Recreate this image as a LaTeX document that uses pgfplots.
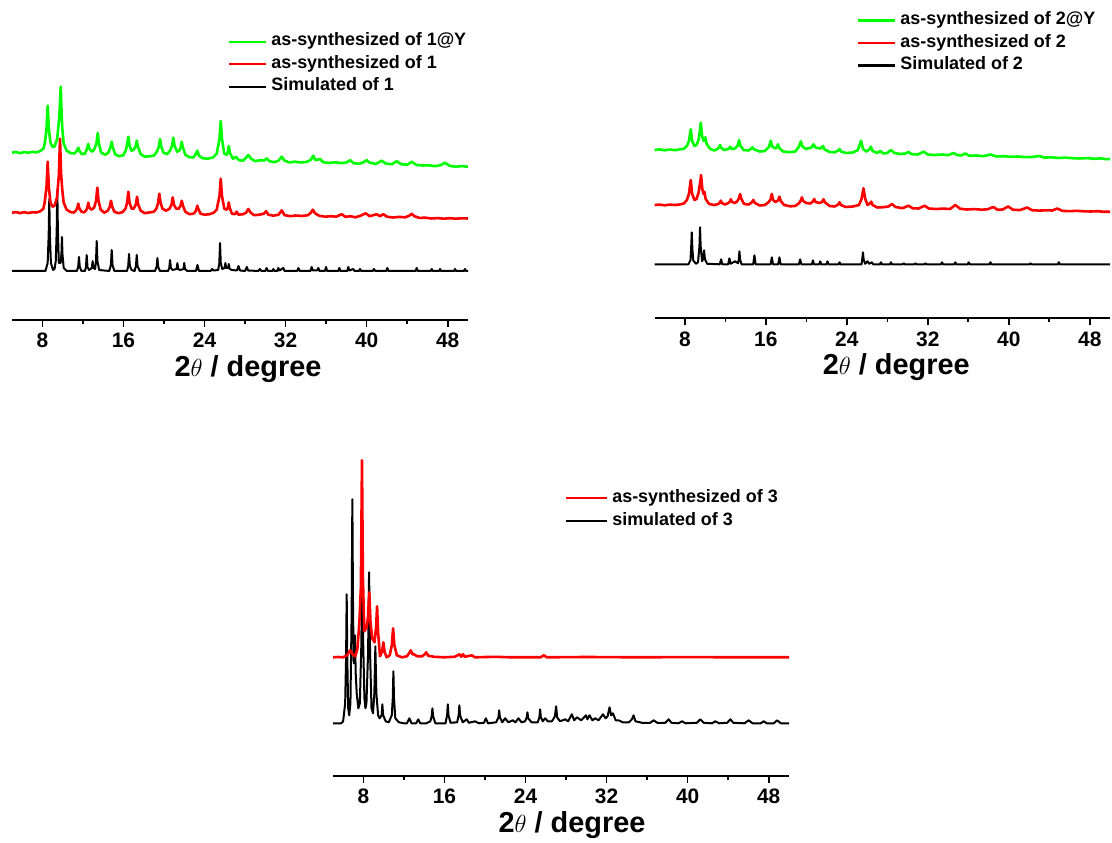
\documentclass[border=0pt]{standalone}
\usepackage{fontspec}
\setmainfont{Liberation Sans}
\usepackage{pgfplots}
\pgfplotsset{compat=1.18}

\definecolor{xgreen}{RGB}{0,255,0}
\definecolor{xred}{RGB}{255,0,0}

\pgfplotsset{
  xrd/.style={
    scale only axis,
    width=456bp,
    xmin=5, xmax=50, ymin=0,
    axis x line*=bottom,
    axis y line=none,
    xtick={8,16,...,48},
    minor x tick num=1,
    tick align=outside,
    major tick length=7bp,
    minor tick length=4bp,
    every tick/.style={black, line width=1.6bp},
    axis line style={black, line width=1.7bp},
    /pgf/number format/assume math mode=true,
    xticklabel style={font=\bfseries\fontsize{21}{21}\selectfont, inner sep=0pt, yshift=-6bp},
    xlabel={2$\theta$ / degree},
    xlabel style={font=\bfseries\fontsize{29}{29}\selectfont, inner sep=0pt,
      at={(axis description cs:0.5,0)}, anchor=north, yshift=-35bp},
    legend style={draw=none, fill=none, inner sep=0pt, outer sep=0pt, anchor=north west,
      font=\bfseries\fontsize{18}{18}\selectfont, row sep=0pt, column sep=4bp,
      nodes={inner sep=0pt, text height=15.5bp, text depth=7bp}},
    legend cell align=left,
    reverse legend,
    legend image code/.code={\draw[#1, line width=2.2bp] (0bp,0bp) -- (37bp,0bp);},
  },
  sim/.style={black, line width=2bp, line join=round},
  expr/.style={xred, line width=2.6bp, line join=round},
  expg/.style={xgreen, line width=2.6bp, line join=round},
}

\begin{document}
\begin{tikzpicture}
\path[use as bounding box] (0bp,0bp) rectangle (1112bp,843bp);

% ---------------- compound 1 ----------------
\begin{axis}[xrd, at={(12bp,523bp)}, anchor=south west, height=300bp, ymax=300,
  legend style={at={(0.474,0.965)}}, xlabel style={xshift=8bp}]
\addplot[sim] table[y expr=\thisrow{y}+49] {
x y
5 0
8.3 0
8.52 8
8.62 36
8.68 72
8.74 36
8.84 8
9.05 1
9.2 2
9.32 10
9.41 40
9.47 81
9.53 40
9.62 8
9.8 8
9.88 18
9.93 34
9.98 17
10.1 3
10.4 0
11.4 0
11.53 4
11.61 14
11.69 4
11.85 0
12.2 0
12.3 4
12.37 16
12.45 4
12.6 1
12.88 3
12.96 10
13.03 3
13.2 2
13.29 10
13.36 30
13.43 10
13.6 1
14.6 0
14.76 6
14.84 21
14.92 6
15.1 0
16.35 0
16.47 5
16.55 17
16.63 5
16.8 1
17.1 0
17.23 5
17.31 16
17.39 5
17.6 0
19.1 0
19.27 4
19.35 13
19.43 4
19.6 0
20.4 0
20.52 3
20.6 11
20.68 3
20.85 1
21.24 2
21.32 8
21.4 2
21.6 1
21.93 2
22.0 8
22.07 2
22.3 0
23.15 0
23.3 6
23.45 0
24.6 0
24.75 2
24.9 0.5
25.35 1
25.46 8
25.53 28
25.6 8
25.75 2
25.98 3
26.06 8
26.14 3
26.32 3
26.4 7
26.48 2
26.7 1
27.2 0.5
27.35 5
27.5 0.5
28.0 0
28.17 4
28.3 0.5
29.3 0
29.47 2
29.6 0
30.0 0
30.13 3
30.26 0
30.7 0
30.79 2
30.9 0
31.18 0
31.28 3
31.4 0.5
31.77 3
31.9 0
33.15 0
33.26 3
33.4 0
34.45 0
34.57 4
34.7 0.5
35.1 0.5
35.23 3
35.35 0
35.88 0
35.99 4
36.1 0
37.2 0
37.3 3
37.4 0
38.08 0
38.19 4
38.3 0.5
38.68 2
38.8 0
39.25 0
39.34 2
39.45 0
40.6 0
40.72 2
40.85 0
41.93 0
42.04 3
42.15 0
44.83 0
44.94 3
45.05 0
46.32 0
46.42 2
46.52 0
47.14 0
47.24 2
47.34 0
48.62 0
48.72 2
48.82 0
49.6 0
49.7 2
49.8 0
50 0
};
\addlegendentry{Simulated of 1}
\addplot[expr] table[y expr=\thisrow{y}+107.3] {
x y
5 0
5.4 0.6
5.8 -0.4
6.2 0.5
6.6 -0.3
7.0 0.4
7.4 0.2
7.8 1.5
8.1 4
8.22 10
8.4 25
8.52 51
8.64 25
8.8 10
9.0 6
9.2 7
9.44 15
9.62 37
9.74 74
9.84 40
9.96 23
10.1 10
10.4 3
10.8 0.5
11.1 0.2
11.3 2
11.44 4.5
11.54 9
11.64 4.5
11.85 1
12.1 0.3
12.3 2
12.43 5
12.53 10
12.63 5
12.85 3
13.1 5
13.3 12
13.42 25
13.54 12
13.75 3
14.1 0
14.45 2
14.65 6
14.77 12
14.89 6
15.1 1
15.5 -0.5
15.9 0.5
16.2 4
16.36 10
16.48 21
16.6 10
16.8 4
17.0 4
17.22 8
17.34 16
17.46 8
17.7 2
18.1 -0.5
18.6 0.3
19.0 1
19.25 4
19.42 10
19.54 19
19.66 10
19.85 4
20.2 2
20.55 4
20.74 8
20.86 15.3
20.98 8
21.2 4
21.45 4
21.63 7
21.75 12
21.87 7
22.1 1
22.5 -1.5
22.9 -1
23.1 1
23.2 4
23.29 7
23.38 4
23.6 -1
24.0 -2
24.5 -1.5
24.9 0
25.2 3
25.48 17
25.6 34
25.72 17
25.95 4
26.2 3
26.3 5
26.39 10.3
26.48 5
26.7 -1
27.0 -1.5
27.17 1
27.35 -2
27.8 -1.5
28.1 0
28.32 3.7
28.55 0
28.9 -2.5
29.4 -2
29.85 -1
30.07 1.5
30.3 -2
30.8 -3
31.3 -2
31.62 2.3
31.9 -2.5
32.5 -3.5
33.0 -2.8
33.6 -3.3
34.2 -2.5
34.5 0
34.68 3
34.9 -0.5
35.3 -3
35.9 -4
36.5 -3.5
37.0 -4
37.54 -1.5
37.9 -4.2
38.4 -3.5
38.9 -4.6
39.4 -3
39.9 -0.6
40.3 -3.5
40.99 -1.5
41.3 -3.5
41.64 -1.5
42.0 -4
42.6 -4.8
43.2 -4.2
43.8 -4.6
44.2 -3
44.45 -1
44.7 -3.5
45.2 -5.2
45.8 -5
46.4 -5.8
47.0 -5.4
47.6 -6
48.2 -5.5
48.8 -6
49.4 -5.6
50 -5.8
};
\addlegendentry{as-synthesized of 1}
\addplot[expg] table[y expr=\thisrow{y}+167.3] {
x y
5 0
5.4 0.8
5.8 -0.5
6.2 0.6
6.6 0
7.0 0.9
7.4 0.3
7.8 1.8
8.1 4
8.25 10
8.4 23
8.52 47
8.64 23
8.8 10
9.0 6
9.2 6
9.46 14
9.66 35
9.81 66
9.9 38
9.96 25
10.1 9
10.4 2
10.8 -0.5
11.1 -0.8
11.3 0.5
11.44 2.5
11.54 5
11.64 2
11.9 -1.5
12.2 -1
12.36 3
12.53 8.7
12.65 3.5
12.9 1
13.1 3
13.33 9
13.46 19.7
13.58 9
13.8 0
14.2 -2
14.5 0
14.7 5
14.84 11
14.96 5
15.2 -2
15.6 -3.5
16.0 -2.5
16.25 3
16.36 8
16.48 16
16.6 7
16.8 2
17.0 3
17.2 6
17.31 12
17.43 6
17.7 -1.5
18.1 -4
18.6 -3.5
19.0 -3
19.3 1
19.49 6
19.61 13.7
19.73 6
19.95 0
20.3 -1.5
20.6 2
20.8 7
20.92 15
21.04 7
21.3 1
21.5 2
21.64 5
21.75 11
21.87 5
22.1 -2
22.5 -4.5
22.9 -4.8
23.1 -2
23.29 2
23.45 -3
23.8 -5.5
24.3 -6
24.8 -5
25.2 -1
25.48 14
25.6 31.7
25.72 14
25.95 -1
26.2 -2
26.3 1
26.39 6.7
26.5 0
26.8 -6
27.11 -4.3
27.4 -7.5
27.8 -8
28.1 -5
28.32 -2.3
28.6 -6
29.0 -8.5
29.5 -7.5
29.9 -7.8
30.13 -5.6
30.4 -8.5
30.9 -9.5
31.3 -8
31.62 -4
31.9 -8
32.4 -9.8
32.9 -9
33.5 -9.8
34.1 -9.2
34.5 -7
34.73 -3
34.95 -7.5
35.39 -6.3
35.7 -9.5
36.3 -10.3
36.9 -9.6
37.5 -10.4
38.0 -9.8
38.36 -7.5
38.7 -10.5
39.3 -11
39.7 -9.5
40.0 -7.5
40.3 -10
40.9 -11.3
41.48 -8
41.9 -11
42.5 -11.5
42.97 -8.5
43.4 -11.5
44.0 -12
44.45 -9
44.9 -12.2
45.5 -12.8
46.1 -12.5
46.7 -13.5
47.3 -12.5
47.73 -10
48.2 -13.2
48.8 -14
49.4 -13.4
50 -14
};
\addlegendentry{as-synthesized of 1@Y}
\end{axis}

% ---------------- compound 2 ----------------
\begin{axis}[xrd, at={(654.5bp,524.7bp)}, anchor=south west, width=455.5bp, height=310bp, ymax=310,
  legend style={at={(0.445,0.997)}}, xlabel style={xshift=14bp}]
\addplot[sim] table[y expr=\thisrow{y}+54] {
x y
5 0
8.35 0
8.55 4
8.62 16
8.68 32
8.74 16
8.82 4
9.1 0.5
9.3 2
9.44 18
9.5 37
9.56 18
9.7 3
9.8 5
9.9 14
9.98 5
10.2 0.5
11.45 0
11.58 5
11.7 0
12.28 0
12.4 6
12.52 0.5
12.96 3
13.25 1
13.33 5
13.39 13
13.45 5
13.6 0
14.75 0
14.87 9
14.99 0
16.47 0
16.59 7
16.71 0
17.22 0
17.34 7
17.46 0
19.27 0
19.39 5
19.51 0
20.55 0
20.65 4
20.75 0
21.27 0
21.37 3
21.47 0
21.99 0
22.09 3
22.19 0
23.18 0
23.28 2
23.38 0
25.45 0
25.52 5
25.59 12
25.66 5
25.8 0.5
26.05 3
26.2 0.5
26.48 2
26.6 0
27.27 0
27.37 2
27.47 0
28.26 0
28.36 2
28.46 0
29.5 0
29.61 1
29.72 0
30.66 0
30.77 1
30.88 0
31.65 0
31.76 1
31.87 0
33.31 0
33.41 2
33.51 0
34.62 0
34.72 2
34.82 0
35.94 0
36.04 2
36.14 0
38.09 0
38.19 2
38.29 0
42.04 0
42.14 1
42.24 0
44.84 0
44.94 2
45.04 0
50 0
};
\addlegendentry{Simulated of 2}
\addplot[expr] table[y expr=\thisrow{y}+113.3] {
x y
5 0
5.5 0.4
6 -0.3
6.5 0.4
7 0
7.5 0.5
7.9 1.5
8.2 5
8.4 11
8.58 25
8.72 11
8.95 5
9.15 6
9.35 12
9.5 22
9.6 30
9.72 16
9.85 11
9.93 13.3
10.05 6
10.4 1
10.9 0
11.3 1
11.45 2.5
11.55 4.3
11.65 2
11.95 0.5
12.3 2
12.45 3.5
12.54 5.7
12.65 3
12.95 2
13.2 4
13.35 7
13.46 11
13.58 6
13.85 1
14.3 0.5
14.6 2.5
14.77 5
14.92 2
15.4 -0.5
15.9 0
16.3 3
16.47 6
16.59 11
16.71 5
16.95 3
17.2 4.5
17.34 8.3
17.48 4
17.8 0
18.4 -1.3
18.9 -1
19.3 2
19.45 4.5
19.56 7.7
19.68 4
20.0 2
20.4 1.5
20.65 3.5
20.78 6
20.9 3
21.3 2
21.55 3
21.7 5.7
21.85 2.5
22.3 -1
22.8 -1.5
23.15 0.5
23.28 2.7
23.42 0
23.9 -2
24.6 -1.5
25.2 0
25.45 6
25.65 16.7
25.82 6
26.05 0
26.28 1.5
26.41 3.3
26.55 0
27.0 -2.5
27.6 -2.2
28.1 -1.5
28.46 1
28.8 -2
29.5 -3.2
30.1 -0.7
30.5 -3.3
31.1 -3.5
31.69 -0.7
32.1 -3.5
32.8 -4
33.5 -3.6
34.2 -4
34.72 0
35.2 -3.8
35.9 -4.5
36.6 -4.1
37.3 -4.7
37.9 -4.3
38.48 -2
38.9 -4.8
39.4 -4.5
39.94 -1.5
40.4 -4.7
41.1 -5.1
41.82 -2.5
42.3 -5.2
43.0 -5.6
43.7 -5.3
44.3 -5.5
44.78 -3.5
45.3 -5.9
46.0 -6.2
46.7 -5.8
47.4 -6.3
48.1 -6.5
48.8 -6.2
49.4 -6.8
50 -6.7
};
\addlegendentry{as-synthesized of 2}
\addplot[expg] table[y expr=\thisrow{y}+168.3] {
x y
5 0
5.5 0.6
6 -0.3
6.5 0.5
7 -0.2
7.5 0.6
7.9 1.2
8.2 4
8.4 9
8.58 20.7
8.72 9
8.95 4
9.15 5
9.35 10
9.48 19
9.57 27.3
9.7 14
9.85 9
10.02 12.7
10.15 6
10.5 1
10.9 -0.5
11.25 1
11.38 3
11.48 5
11.6 2
11.9 0
12.3 1
12.47 3.3
12.6 1
12.95 1.5
13.2 4
13.36 10
13.5 4
13.8 0
14.3 -0.5
14.55 1.5
14.67 2.7
14.85 0.5
15.4 -1.5
15.9 -1
16.3 3
16.49 9.3
16.62 3.5
16.95 1.5
17.1 3
17.19 5.7
17.32 2
17.7 -1.5
18.3 -2.2
18.9 -1.5
19.25 3
19.46 8.7
19.62 3.5
19.95 1
20.5 2.5
20.71 5.7
20.9 2.5
21.4 1.5
21.64 4
21.8 0.5
22.3 -2
22.8 -2.3
23.15 -0.5
23.28 1
23.42 -1.5
23.9 -3
24.6 -2.5
25.1 0
25.4 9.3
25.6 1
25.95 -1.5
26.2 0.5
26.38 3.3
26.55 -1
27.0 -3
27.3 -1
27.6 -3.5
28.0 -3
28.36 0
28.7 -3
29.3 -4
29.8 -3.5
30.1 -2
30.4 -4.2
31.0 -4.5
31.59 -1.7
32.0 -4.5
32.7 -5
33.4 -4.5
34.0 -5.2
34.55 -3
34.9 -5
35.3 -5.5
35.71 -3.5
36.1 -5.8
36.8 -5.5
37.5 -6.2
38.19 -4.5
38.8 -6.5
39.5 -6.2
40.2 -6.8
40.9 -6.5
41.6 -7.2
42.3 -7
42.96 -6
43.5 -7.6
44.2 -7.3
44.9 -8
45.6 -7.6
46.3 -8.2
47.0 -8.5
47.7 -8.1
48.4 -8.8
49.1 -8.4
49.6 -9.2
50 -9
};
\addlegendentry{as-synthesized of 2@Y}
\end{axis}

% ---------------- compound 3 ----------------
\begin{axis}[xrd, at={(333bp,67bp)}, anchor=south west, height=336bp, ymax=336,
  legend style={at={(0.509,0.86)}}, xlabel style={xshift=11bp},
  legend image code/.code={\draw[#1, line width=2.2bp] (0bp,0bp) -- (41bp,0bp);}]
\addplot[sim] table[y expr=\thisrow{y}+52.7] {
x y
5 0
5.8 0
6.0 2
6.2 20
6.29 65
6.35 129
6.41 65
6.5 15
6.6 8
6.72 20
6.84 110
6.91 224
6.98 110
7.05 60
7.12 80
7.17 88
7.24 50
7.34 30
7.5 15
7.65 20
7.8 80
7.89 175
7.98 80
8.1 25
8.2 15
8.3 20
8.46 70
8.56 151
8.66 70
8.8 15
8.95 10
9.08 30
9.18 77
9.28 30
9.45 8
9.6 5
9.8 8
9.87 19
9.95 8
10.2 2
10.5 1
10.8 8
10.9 25
10.96 52
11.02 25
11.15 5
11.5 1
12.0 0
12.3 0
12.54 5
12.75 0
13.2 0
13.42 4
13.6 0
14.2 0
14.6 2
14.74 7
14.81 15
14.88 7
15.1 0
16.1 0
16.26 8
16.33 19
16.4 8
16.6 0.5
17.25 1
17.4 8
17.47 18
17.54 8
17.8 1
18.2 4
18.4 0.5
19.02 2
19.4 0
19.9 0.5
20.08 5
20.3 0
21.1 1
21.33 6
21.4 13
21.47 6
21.7 1
21.99 5
22.3 1
22.75 3
23.0 1
23.3 5
23.6 1
23.95 2
24.12 6
24.19 11
24.26 5
24.6 1
25.2 1
25.37 6
25.44 14
25.51 6
25.7 2
25.94 5
26.2 2
26.6 2
26.9 7
27.02 17
27.12 6
27.4 2
27.91 4
28.2 2
28.57 9
28.8 3
29.07 6
29.5 3
29.96 8
30.1 4
30.31 8
30.6 3
30.88 5
31.2 3
31.64 9
31.9 5
32.1 7
32.29 16
32.45 8
32.62 10
32.9 3
33.18 3
33.6 1
34.2 1
34.5 4
34.66 8
34.85 2
35.5 0.5
36.3 0.5
36.64 3
37.0 0.5
37.8 0.5
38.12 4
38.4 0.5
39.1 0
39.44 2
39.8 0
40.9 0.5
41.25 4
41.6 0.5
42.4 0
42.73 2
43.1 0
43.9 0.5
44.21 4
44.5 0.5
45.6 0
46.02 3
46.4 0
47.2 0
47.5 2
47.8 0
48.5 0
48.82 3
49.2 0
50 0
};
\addlegendentry{simulated of 3}
\addplot[expr] table[y expr=\thisrow{y}+118.7] {
x y
5 0
5.5 0.3
6.0 0
6.4 2
6.68 7
6.95 3
7.2 1
7.4 8
7.6 34
7.75 70
7.86 197
7.95 80
8.09 26
8.2 28
8.33 30
8.45 40
8.58 65
8.7 35
8.87 19
9.1 15
9.25 30
9.35 51
9.45 25
9.64 1
9.85 6
9.97 15
10.1 5
10.3 0
10.6 2
10.8 12
10.93 29
11.06 12
11.3 2
11.8 0
12.3 1
12.5 4
12.67 7
12.85 3
13.0 3
13.3 1
13.8 1
14.05 3
14.2 5
14.4 1.5
15.0 0.5
16.0 0
17.0 0.5
17.5 3
17.65 0.5
17.84 3
18.0 0.5
18.7 2
19.0 0
21.0 0.5
22.5 0
25.5 0
25.8 2
26.1 0
30 0.3
35 0
40 0.2
45 0
50 0
};
\addlegendentry{as-synthesized of 3}
\end{axis}
\end{tikzpicture}
\end{document}
